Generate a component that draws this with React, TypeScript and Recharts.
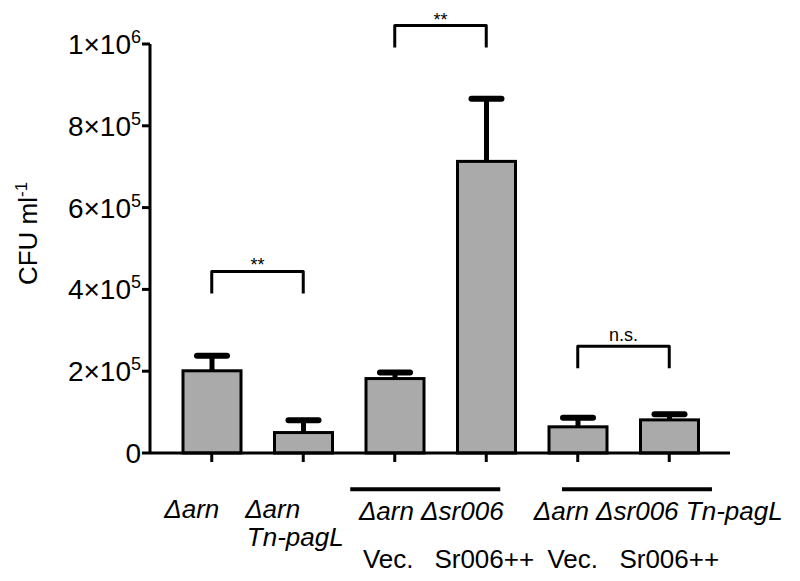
import React from 'react';
import { ComposedChart, Bar, XAxis, YAxis, ReferenceLine } from 'recharts';

const FONT = '"Liberation Sans", Arial, Helvetica, sans-serif';

// ---- data ----
const categories = [
  'Δarn',
  'Δarn Tn-pagL',
  'Δarn Δsr006 Vec.',
  'Δarn Δsr006 Sr006++',
  'Δarn Δsr006 Tn-pagL Vec.',
  'Δarn Δsr006 Tn-pagL Sr006++',
];
const meanCFU = [201000, 50000, 182000, 713000, 64000, 81000];
const semCFU = [37000, 30000, 15000, 153000, 22000, 14000];

const yTicks = [0, 200000, 400000, 600000, 800000, 1000000];
const yTickMantissa = ['0', '2', '4', '6', '8', '1'];
const yTickExponent = ['', '5', '5', '5', '5', '6'];

const strainLines = [['Δarn'], ['Δarn', 'Tn-pagL'], [], [], [], []];
const plasmidLabels = ['', '', 'Vec.', 'Sr006++', 'Vec.', 'Sr006++'];
const groupStarts = [2, 4];
const groupLabels = ['Δarn Δsr006', 'Δarn Δsr006 Tn-pagL'];

const compareFrom = [0, 2, 4];
const compareTo = [1, 3, 5];
const compareLevel = [444000, 1045000, 261000];
const compareText = ['**', '**', 'n.s.'];

const tableData = categories.map((name, i) => ({ name, mean: meanCFU[i], sem: semCFU[i] }));

// ---- styles (offsets in px) ----
const strainDx = [[-20], [-30.6, -8]];
const strainDy = [56, 83.7];
const plasmidDx = [0, 0, -6.5, -2, -5, 0];
const groupLine = [
  { from: -44.5, to: 105.5, textDx: 36.5 },
  { from: -15.8, to: 134.2, textDx: 80.5 },
];

const BarShape = (props: any) => {
  const { x, y, width, height, payload, value } = props;
  const v = Array.isArray(value) ? value[1] - value[0] : value;
  const pxPerUnit = v ? height / v : 0;
  const cx = x + width / 2;
  const capY = y - payload.sem * pxPerUnit;
  return (
    <g>
      <line x1={cx} x2={cx} y1={y} y2={capY} stroke="#000" strokeWidth={5} />
      <line x1={cx - 15} x2={cx + 15} y1={capY} y2={capY} stroke="#000" strokeWidth={6} strokeLinecap="round" />
      <rect x={x} y={y} width={width} height={height} fill="#aaaaaa" stroke="#000" strokeWidth={3} />
    </g>
  );
};

const BracketShape = (props: any) => {
  const { x1, y1, x2, y2 } = props;
  return (
    <path
      d={`M${x1},${y1 + 22} V${y1} H${x2} V${y2 + 22}`}
      fill="none"
      stroke="#000"
      strokeWidth={3}
      strokeLinejoin="round"
    />
  );
};

const YTick = (props: any) => {
  const { x, y, payload } = props;
  const i = yTicks.indexOf(payload.value);
  const exp = yTickExponent[i];
  return (
    <text x={x} y={y} dy={10} textAnchor="end" fontSize={28} fontFamily={FONT} fill="#000">
      {exp ? `${yTickMantissa[i]}×10` : yTickMantissa[i]}
      {exp ? (
        <tspan dy={-11} fontSize={18}>
          {exp}
        </tspan>
      ) : null}
    </text>
  );
};

const XTick = (props: any) => {
  const { x, y, payload } = props;
  const i = categories.indexOf(payload.value);
  const g = groupStarts.indexOf(i);
  return (
    <g>
      {strainLines[i].map((t, k) => (
        <text
          key={k}
          x={x + strainDx[i][k]}
          y={y + strainDy[k]}
          textAnchor="middle"
          fontSize={26}
          fontStyle="italic"
          fontFamily={FONT}
          fill="#000"
        >
          {t}
        </text>
      ))}
      {g >= 0 ? (
        <g>
          <line
            x1={x + groupLine[g].from}
            x2={x + groupLine[g].to}
            y1={y + 27.3}
            y2={y + 27.3}
            stroke="#000"
            strokeWidth={4}
          />
          <text
            x={x + groupLine[g].textDx}
            y={y + 57.5}
            textAnchor="middle"
            fontSize={26}
            fontStyle="italic"
            fontFamily={FONT}
            fill="#000"
          >
            {groupLabels[g]}
          </text>
        </g>
      ) : null}
      {plasmidLabels[i] ? (
        <text x={x + plasmidDx[i]} y={y + 106} textAnchor="middle" fontSize={26} fontFamily={FONT} fill="#000">
          {plasmidLabels[i]}
        </text>
      ) : null}
    </g>
  );
};

const YLabel = (props: any) => {
  const vb = props.viewBox || { x: 0, y: 44, width: 150, height: 409 };
  const cx = vb.x + 37;
  const cy = vb.y + vb.height / 2 - 15;
  return (
    <text
      transform={`rotate(-90 ${cx} ${cy})`}
      x={cx}
      y={cy}
      textAnchor="middle"
      fontSize={26}
      fontFamily={FONT}
      fill="#000"
    >
      CFU ml
      <tspan dy={-10} fontSize={17}>
        -1
      </tspan>
    </text>
  );
};

export default function App() {
  return (
    <div style={{ position: 'absolute', left: 0, top: 0, width: 800, height: 581, background: '#fff' }}>
      <ComposedChart
        width={800}
        height={581}
        data={tableData}
        margin={{ top: 44, right: 70, left: 0, bottom: 0 }}
      >
        <XAxis
          dataKey="name"
          type="category"
          interval={0}
          padding={{ left: 16, right: 15 }}
          height={128}
          tickSize={9}
          tickMargin={0}
          axisLine={{ stroke: '#000', strokeWidth: 3 }}
          tickLine={{ stroke: '#000', strokeWidth: 3 }}
          tick={<XTick />}
        />
        <YAxis
          type="number"
          domain={[0, 1000000]}
          ticks={yTicks}
          interval={0}
          width={150}
          tickSize={8}
          tickMargin={1}
          axisLine={{ stroke: '#000', strokeWidth: 3 }}
          tickLine={{ stroke: '#000', strokeWidth: 3 }}
          tick={<YTick />}
          label={{ content: <YLabel /> }}
        />
        <Bar dataKey="mean" barSize={58} isAnimationActive={false} shape={<BarShape />} />
        {compareFrom.map((a, k) => (
          <ReferenceLine
            key={k}
            ifOverflow="visible"
            segment={[
              { x: categories[a], y: compareLevel[k] },
              { x: categories[compareTo[k]], y: compareLevel[k] },
            ]}
            shape={<BracketShape />}
            label={{
              value: compareText[k],
              position: 'top',
              offset: compareText[k] === '**' ? 0 : 5,
              fontSize: 18,
              fill: '#000',
              fontFamily: FONT,
            }}
          />
        ))}
      </ComposedChart>
    </div>
  );
}
